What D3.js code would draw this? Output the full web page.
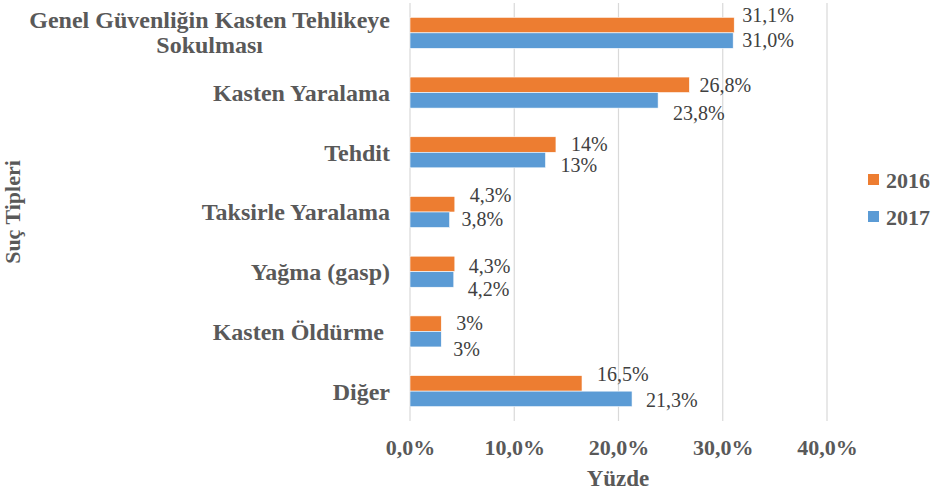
<!DOCTYPE html>
<html>
<head>
<meta charset="utf-8">
<script src="https://cdn.jsdelivr.net/npm/d3@7"></script>
<style>
body { margin: 0; background: #fff; }
</style>
</head>
<body>
<div id="chart"></div>
<script>
// categories, top to bottom
var categories = ["Genel Güvenliğin Kasten Tehlikeye|Sokulması", "Kasten Yaralama", "Tehdit",
  "Taksirle Yaralama", "Yağma (gasp)", "Kasten Öldürme ", "Diğer"];
var series = ["2016", "2017"];
var values2016 = [31.1, 26.8, 14, 4.3, 4.3, 3, 16.5];
var values2017 = [31.0, 23.8, 13, 3.8, 4.2, 3, 21.3];
var labels2016 = ["31,1%", "26,8%", "14%", "4,3%", "4,3%", "3%", "16,5%"];
var labels2017 = ["31,0%", "23,8%", "13%", "3,8%", "4,2%", "3%", "21,3%"];
var xTicks = [0, 10, 20, 30, 40];

// hand-placed label offsets (dx, dy from bar end / bar middle), like the original
var nudge2016 = [[8, -3], [10, 7], [15, 6], [15, -2], [14, 9], [15, 6], [15, -2]];
var nudge2017 = [[9, 6], [15, 20], [15, 12], [12, 6], [14, 17], [12, 17], [14, 8]];

var width = 938, height = 492;
var colors = { "2016": "#ED7D31", "2017": "#5B9BD5" };
var FONT = "'Liberation Serif', 'Times New Roman', serif";
var GRAY = "#595959";

var svg = d3.select("#chart").append("svg")
  .attr("width", width)
  .attr("height", height)
  .attr("font-family", FONT);

var x = d3.scaleLinear().domain([0, 40]).range([410, 827]);
var y = d3.scaleBand().domain(categories).range([3, 421]).paddingInner(0.48).paddingOuter(0.24);
var ySub = d3.scaleBand().domain(series).range([0, y.bandwidth()]);

// gridlines
svg.append("g").selectAll("line")
  .data(xTicks)
  .enter().append("line")
  .attr("x1", function(d) { return x(d); })
  .attr("x2", function(d) { return x(d); })
  .attr("y1", 3)
  .attr("y2", 421)
  .attr("stroke", "#d9d9d9")
  .attr("stroke-width", 1.2);

// x axis tick labels
var xAxis = d3.axisBottom(x).tickValues(xTicks).tickSize(0).tickPadding(0)
  .tickFormat(function(d) { return d3.format(".1f")(d).replace(".", ",") + "%"; });
var gx = svg.append("g").attr("transform", "translate(0,439)").call(xAxis);
gx.attr("font-family", FONT);
gx.select(".domain").remove();
gx.selectAll("text")
  .style("font-size", "22px")
  .style("font-weight", "bold")
  .attr("fill", GRAY);

// bars
var rows = categories.map(function(c, i) {
  return { cat: c, i: i, vals: [
    { s: "2016", v: values2016[i], label: labels2016[i], n: nudge2016[i] },
    { s: "2017", v: values2017[i], label: labels2017[i], n: nudge2017[i] }
  ]};
});

var group = svg.selectAll(".cat")
  .data(rows)
  .enter().append("g")
  .attr("class", "cat")
  .attr("transform", function(d) { return "translate(0," + y(d.cat) + ")"; });

group.selectAll("rect")
  .data(function(d) { return d.vals; })
  .enter().append("rect")
  .attr("x", x(0))
  .attr("y", function(d) { return ySub(d.s); })
  .attr("width", function(d) { return x(d.v) - x(0); })
  .attr("height", ySub.bandwidth())
  .attr("fill", function(d) { return colors[d.s]; })
  .attr("stroke", "#fff")
  .attr("stroke-width", 0.6);

group.selectAll(".val")
  .data(function(d) { return d.vals; })
  .enter().append("text")
  .attr("class", "val")
  .attr("x", function(d) { return x(d.v) + d.n[0]; })
  .attr("y", function(d) { return ySub(d.s) + ySub.bandwidth() / 2 + d.n[1]; })
  .style("font-size", "20px")
  .attr("fill", "#404040")
  .text(function(d) { return d.label; });

// category labels
group.each(function(d) {
  var g = d3.select(this);
  var lines = d.cat.split("|");
  var mid = y.bandwidth() / 2;
  if (lines.length === 1) {
    g.append("text")
      .attr("x", 390)
      .attr("y", mid)
      .attr("dy", "0.35em")
      .attr("text-anchor", "end")
      .style("font-size", "24px")
      .style("font-weight", "bold")
      .attr("fill", GRAY)
      .style("white-space", "pre")
      .text(lines[0]);
  } else {
    var t1 = g.append("text")
      .attr("x", 390)
      .attr("y", mid - 13)
      .attr("dy", "0.35em")
      .attr("text-anchor", "end")
      .style("font-size", "24px")
      .style("font-weight", "bold")
      .attr("fill", GRAY)
      .text(lines[0]);
    var w = t1.node().getComputedTextLength();
    g.append("text")
      .attr("x", 390 - w / 2)
      .attr("y", mid + 12)
      .attr("dy", "0.35em")
      .attr("text-anchor", "middle")
      .style("font-size", "24px")
      .style("font-weight", "bold")
      .attr("fill", GRAY)
      .text(lines[1]);
  }
});

// axis titles
svg.append("text")
  .attr("x", 618)
  .attr("y", 486)
  .attr("text-anchor", "middle")
  .style("font-size", "23px")
  .style("font-weight", "bold")
  .attr("fill", GRAY)
  .text("Yüzde");

svg.append("text")
  .attr("transform", "translate(20,212) rotate(-90)")
  .attr("text-anchor", "middle")
  .style("font-size", "22px")
  .style("font-weight", "bold")
  .attr("fill", GRAY)
  .text("Suç Tipleri");

// legend
var legend = svg.selectAll(".legend")
  .data(series)
  .enter().append("g")
  .attr("class", "legend")
  .attr("transform", function(d, i) { return "translate(868," + (174 + i * 37) + ")"; });

legend.append("rect")
  .attr("width", 11)
  .attr("height", 11)
  .attr("fill", function(d) { return colors[d]; });

legend.append("text")
  .attr("x", 18)
  .attr("y", 6)
  .attr("dy", "0.35em")
  .style("font-size", "22px")
  .style("font-weight", "bold")
  .attr("fill", GRAY)
  .text(function(d) { return d; });
</script>
</body>
</html>
